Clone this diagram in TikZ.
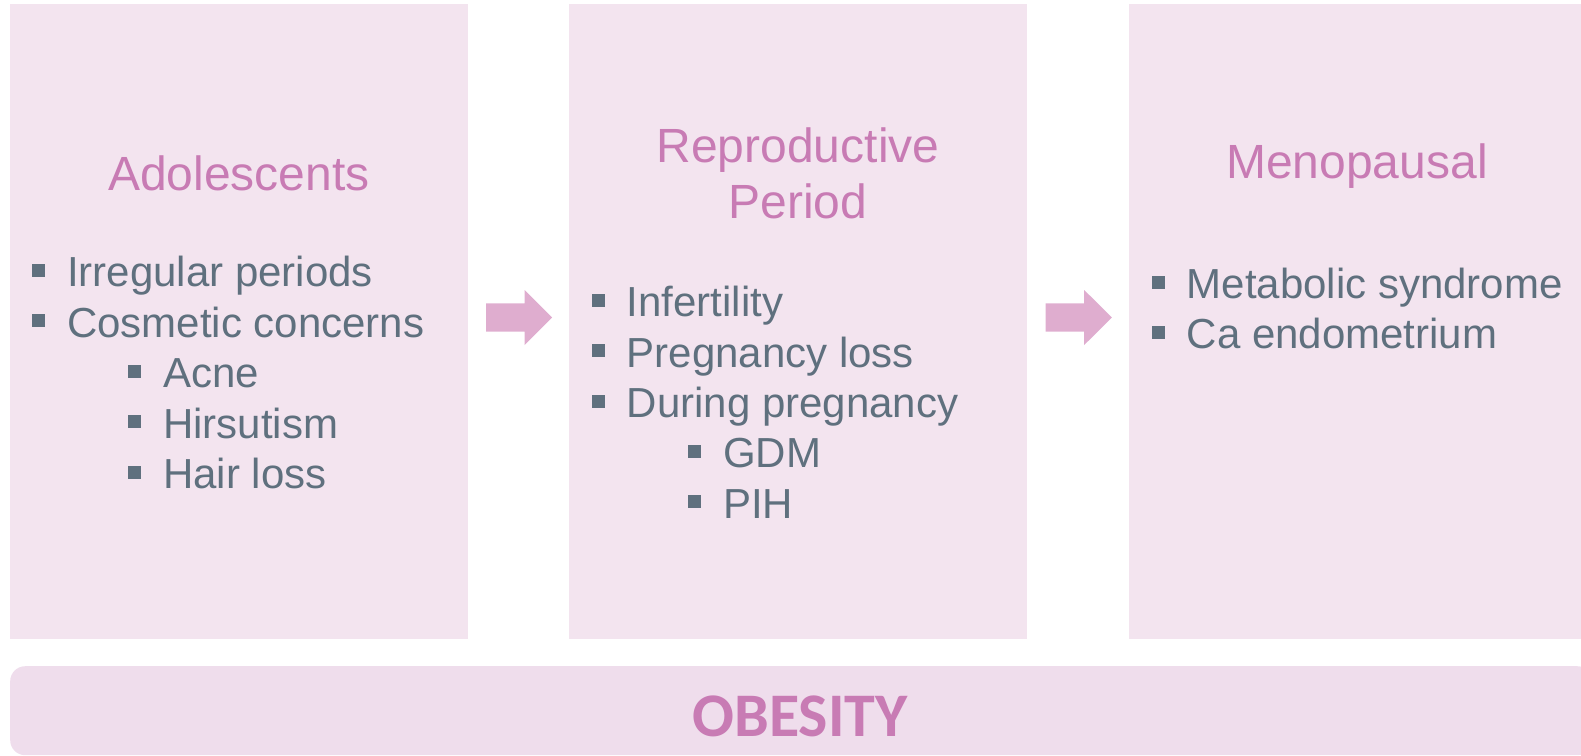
\documentclass[tikz,border=0pt]{standalone}
\usepackage{fontspec}
\setmainfont{Liberation Sans}
\newfontfamily\obfont{Carlito}
\definecolor{boxfill}{HTML}{F3E4EF}
\definecolor{barfill}{HTML}{EFDDEC}
\definecolor{titlec}{HTML}{C87BB4}
\definecolor{textc}{HTML}{5F707E}
\definecolor{arrowc}{HTML}{DFADCF}
\tikzset{
  panel/.style={fill=boxfill, draw=none, minimum width=458pt, minimum height=635pt, inner sep=0pt, anchor=north west},
  ttl/.style={text=titlec, font=\fontsize{48}{56}\selectfont, align=center, inner sep=0pt, anchor=base},
  itm/.style={text=textc, font=\fontsize{42}{50}\selectfont, inner sep=0pt, anchor=base west},
  bul/.style={fill=textc, draw=none, minimum size=13pt, inner sep=0pt, anchor=south west},
  blockarrow/.style={fill=arrowc, draw=none},
}
\newcommand{\bitem}[4]{% name, x of bullet, baseline y, text
  \node[bul] (#1b) at (#2,#3-9.5) {};
  \node[itm] (#1) at (#2+35,#3) {#4};
}
\begin{document}
\begin{tikzpicture}[x=1pt,y=-1pt]
\useasboundingbox (0,0) rectangle (1581,755);
% panels
\node[panel] (p1) at (10,4) {};
\node[panel] (p2) at (569,4) {};
\node[panel] (p3) at (1129,4) {};
% obesity bar
\node[fill=barfill, draw=none, rounded corners=15pt, minimum width=1582pt, minimum height=89pt, inner sep=0pt, anchor=north west] (bar) at (10,666) {};
\node[text=titlec, font=\obfont\bfseries\fontsize{62}{70}\selectfont, inner sep=0pt, anchor=base] (ob) at (800,736) {OBESITY};
% titles
\node[ttl] (t1) at (239,190.7) {Adolescents};
\node[ttl] (t2a) at (798,162.3) {Reproductive};
\node[ttl] (t2b) at (798,218.3) {Period};
\node[ttl] (t3) at (1357,178.3) {Menopausal};
% panel 1 items
\bitem{a1}{32}{286.5}{Irregular periods}
\bitem{a2}{32}{337}{Cosmetic concerns}
\bitem{a3}{128}{387.5}{Acne}
\bitem{a4}{128}{438}{Hirsutism}
\bitem{a5}{128}{488.5}{Hair loss}
% panel 2 items
\bitem{r1}{591.5}{316.7}{Infertility}
\bitem{r2}{591.5}{367}{Pregnancy loss}
\bitem{r3}{591.5}{417.3}{During pregnancy}
\bitem{r4}{688}{467.6}{GDM}
\bitem{r5}{688}{518}{PIH}
% panel 3 items
\bitem{m1}{1151.5}{298.3}{Metabolic syndrome}
\bitem{m2}{1151.5}{348.3}{Ca endometrium}
% arrows
\coordinate (ar1) at (486,317.5);
\coordinate (ar2) at (1045.7,317.5);
\foreach \a in {ar1,ar2}{
  \fill[blockarrow] (\a) ++(0,-14.2) -- ++(38.5,0) -- ++(0,-13.3) -- ++(27.7,27.5) -- ++(-27.7,27.5) -- ++(0,-13.3) -- ++(-38.5,0) -- cycle;
}
\end{tikzpicture}
\end{document}
